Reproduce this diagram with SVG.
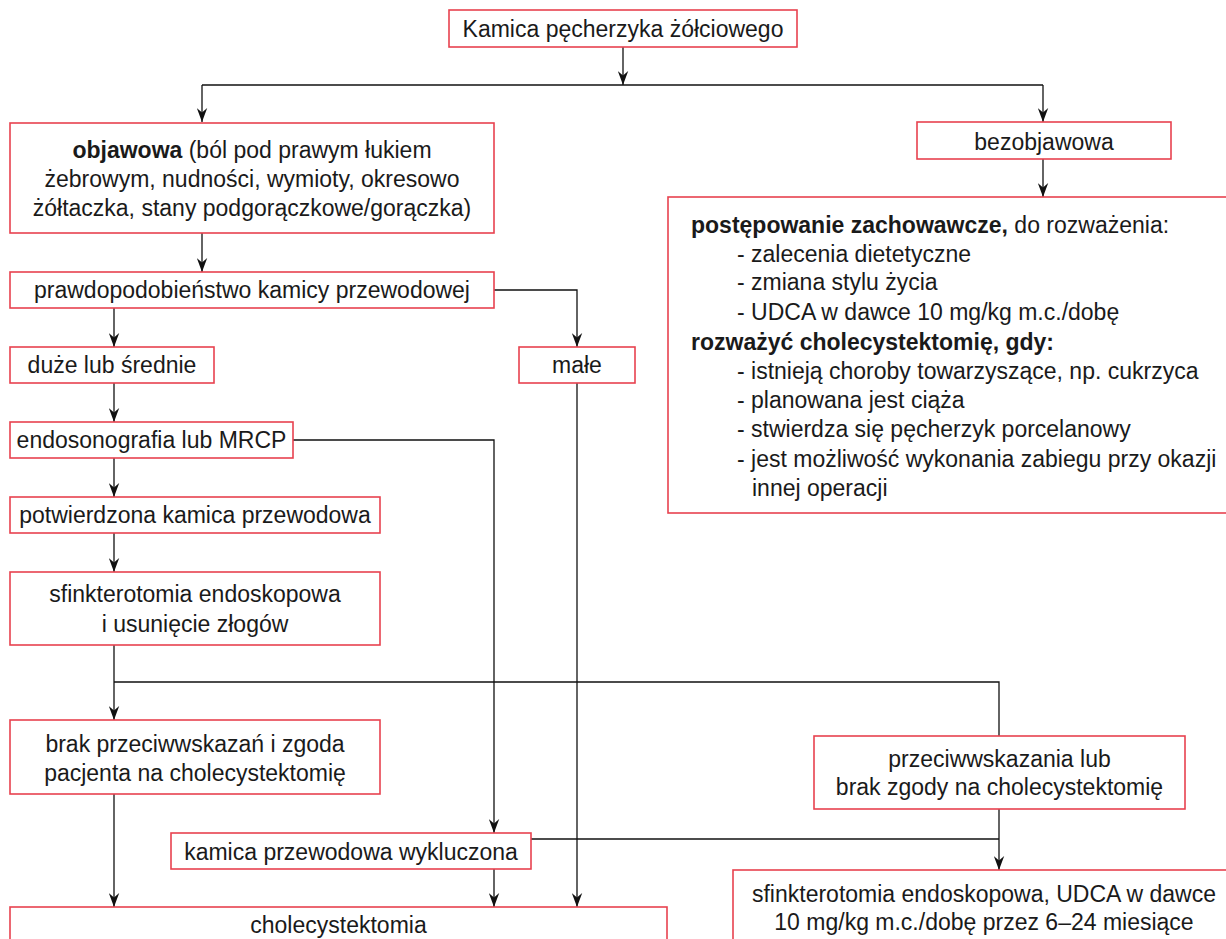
<svg xmlns="http://www.w3.org/2000/svg" width="1226" height="939" viewBox="0 0 1226 939">
<style>
.box{fill:#fff;stroke:#e8424f;stroke-width:1.6}
.t{font-family:"Liberation Sans",Arial,sans-serif;font-size:23px;fill:#1a1a1a}
.c{text-anchor:middle}
.b{font-weight:bold}
.ln{fill:none;stroke:#111;stroke-width:1.3}
</style>
<defs>
<marker id="ah" markerUnits="userSpaceOnUse" viewBox="-14 -5.5 14 11" refX="0" refY="0" markerWidth="14" markerHeight="11" orient="auto">
<path d="M0,0 L-14,-5.2 L-9.5,0 L-14,5.2 Z" fill="#111"/>
</marker>
</defs>
<rect width="1226" height="939" fill="#fff"/>
<g id="connectors">
<path class="ln" d="M623,47 V85" marker-end="url(#ah)"/>
<path class="ln" d="M202,85 H1043"/>
<path class="ln" d="M202,85 V122" marker-end="url(#ah)"/>
<path class="ln" d="M1043,85 V122" marker-end="url(#ah)"/>
<path class="ln" d="M1043,159 V197" marker-end="url(#ah)"/>
<path class="ln" d="M202,233 V272" marker-end="url(#ah)"/>
<path class="ln" d="M494,290 H577 V347" marker-end="url(#ah)"/>
<path class="ln" d="M114,308 V347" marker-end="url(#ah)"/>
<path class="ln" d="M114,383 V422" marker-end="url(#ah)"/>
<path class="ln" d="M293,440 H494 V833" marker-end="url(#ah)"/>
<path class="ln" d="M114,458 V497" marker-end="url(#ah)"/>
<path class="ln" d="M114,533 V572" marker-end="url(#ah)"/>
<path class="ln" d="M114,645 V720" marker-end="url(#ah)"/>
<path class="ln" d="M114,682 H999 V736"/>
<path class="ln" d="M114,794 V907" marker-end="url(#ah)"/>
<path class="ln" d="M494,869 V907" marker-end="url(#ah)"/>
<path class="ln" d="M577,383 V907" marker-end="url(#ah)"/>
<path class="ln" d="M999,809 V870" marker-end="url(#ah)"/>
<path class="ln" d="M531,839 H999"/>
</g>
<g id="n-kamica">
<rect class="box" x="449" y="10" width="348" height="37"/>
<text class="t c" x="623" y="37">Kamica pęcherzyka żółciowego</text>
</g>
<g id="n-objawowa">
<rect class="box" x="10" y="123" width="484" height="110"/>
<text class="t c" x="252" y="158"><tspan class="b">objawowa</tspan> (ból pod prawym łukiem</text>
<text class="t c" x="252" y="187">żebrowym, nudności, wymioty, okresowo</text>
<text class="t c" x="252" y="216">żółtaczka, stany podgorączkowe/gorączka)</text>
</g>
<g id="n-bezobjawowa">
<rect class="box" x="917" y="122" width="254" height="37"/>
<text class="t c" x="1044" y="150">bezobjawowa</text>
</g>
<g id="n-zachowawcze">
<rect class="box" x="668" y="197" width="580" height="316"/>
<text class="t" x="691" y="233"><tspan class="b">postępowanie zachowawcze,</tspan> do rozważenia:</text>
<text class="t" x="737" y="262">- zalecenia dietetyczne</text>
<text class="t" x="737" y="290">- zmiana stylu życia</text>
<text class="t" x="737" y="320">- UDCA w dawce 10 mg/kg m.c./dobę</text>
<text class="t b" x="691" y="350">rozważyć cholecystektomię, gdy:</text>
<text class="t" x="737" y="379">- istnieją choroby towarzyszące, np. cukrzyca</text>
<text class="t" x="737" y="408">- planowana jest ciąża</text>
<text class="t" x="737" y="437">- stwierdza się pęcherzyk porcelanowy</text>
<text class="t" x="737" y="467">- jest możliwość wykonania zabiegu przy okazji</text>
<text class="t" x="752" y="496">innej operacji</text>
</g>
<g id="n-prawdopodobienstwo">
<rect class="box" x="10" y="272" width="484" height="36"/>
<text class="t c" x="252" y="298">prawdopodobieństwo kamicy przewodowej</text>
</g>
<g id="n-duze">
<rect class="box" x="10" y="347" width="204" height="36"/>
<text class="t c" x="112" y="373">duże lub średnie</text>
</g>
<g id="n-male">
<rect class="box" x="519" y="347" width="116" height="36"/>
<text class="t c" x="577" y="373">małe</text>
</g>
<g id="n-endosonografia">
<rect class="box" x="10" y="422" width="283" height="36"/>
<text class="t c" x="151.5" y="448">endosonografia lub MRCP</text>
</g>
<g id="n-potwierdzona">
<rect class="box" x="10" y="497" width="370" height="36"/>
<text class="t c" x="195" y="523">potwierdzona kamica przewodowa</text>
</g>
<g id="n-sfinkterotomia">
<rect class="box" x="10" y="572" width="370" height="73"/>
<text class="t c" x="195" y="602">sfinkterotomia endoskopowa</text>
<text class="t c" x="195" y="632">i usunięcie złogów</text>
</g>
<g id="n-brak">
<rect class="box" x="10" y="720" width="370" height="74"/>
<text class="t c" x="195" y="752">brak przeciwwskazań i zgoda</text>
<text class="t c" x="195" y="781">pacjenta na cholecystektomię</text>
</g>
<g id="n-przeciwwskazania">
<rect class="box" x="814" y="736" width="371" height="73"/>
<text class="t c" x="999.5" y="767">przeciwwskazania lub</text>
<text class="t c" x="999.5" y="795">brak zgody na cholecystektomię</text>
</g>
<g id="n-wykluczona">
<rect class="box" x="171" y="833" width="360" height="36"/>
<text class="t c" x="351" y="860">kamica przewodowa wykluczona</text>
</g>
<g id="n-cholecystektomia">
<rect class="box" x="10" y="907" width="657" height="60"/>
<text class="t c" x="338.5" y="933">cholecystektomia</text>
</g>
<g id="n-udca">
<rect class="box" x="733" y="870" width="520" height="90"/>
<text class="t c" x="984" y="902">sfinkterotomia endoskopowa, UDCA w dawce</text>
<text class="t c" x="984" y="930">10 mg/kg m.c./dobę przez 6–24 miesiące</text>
</g>
</svg>
